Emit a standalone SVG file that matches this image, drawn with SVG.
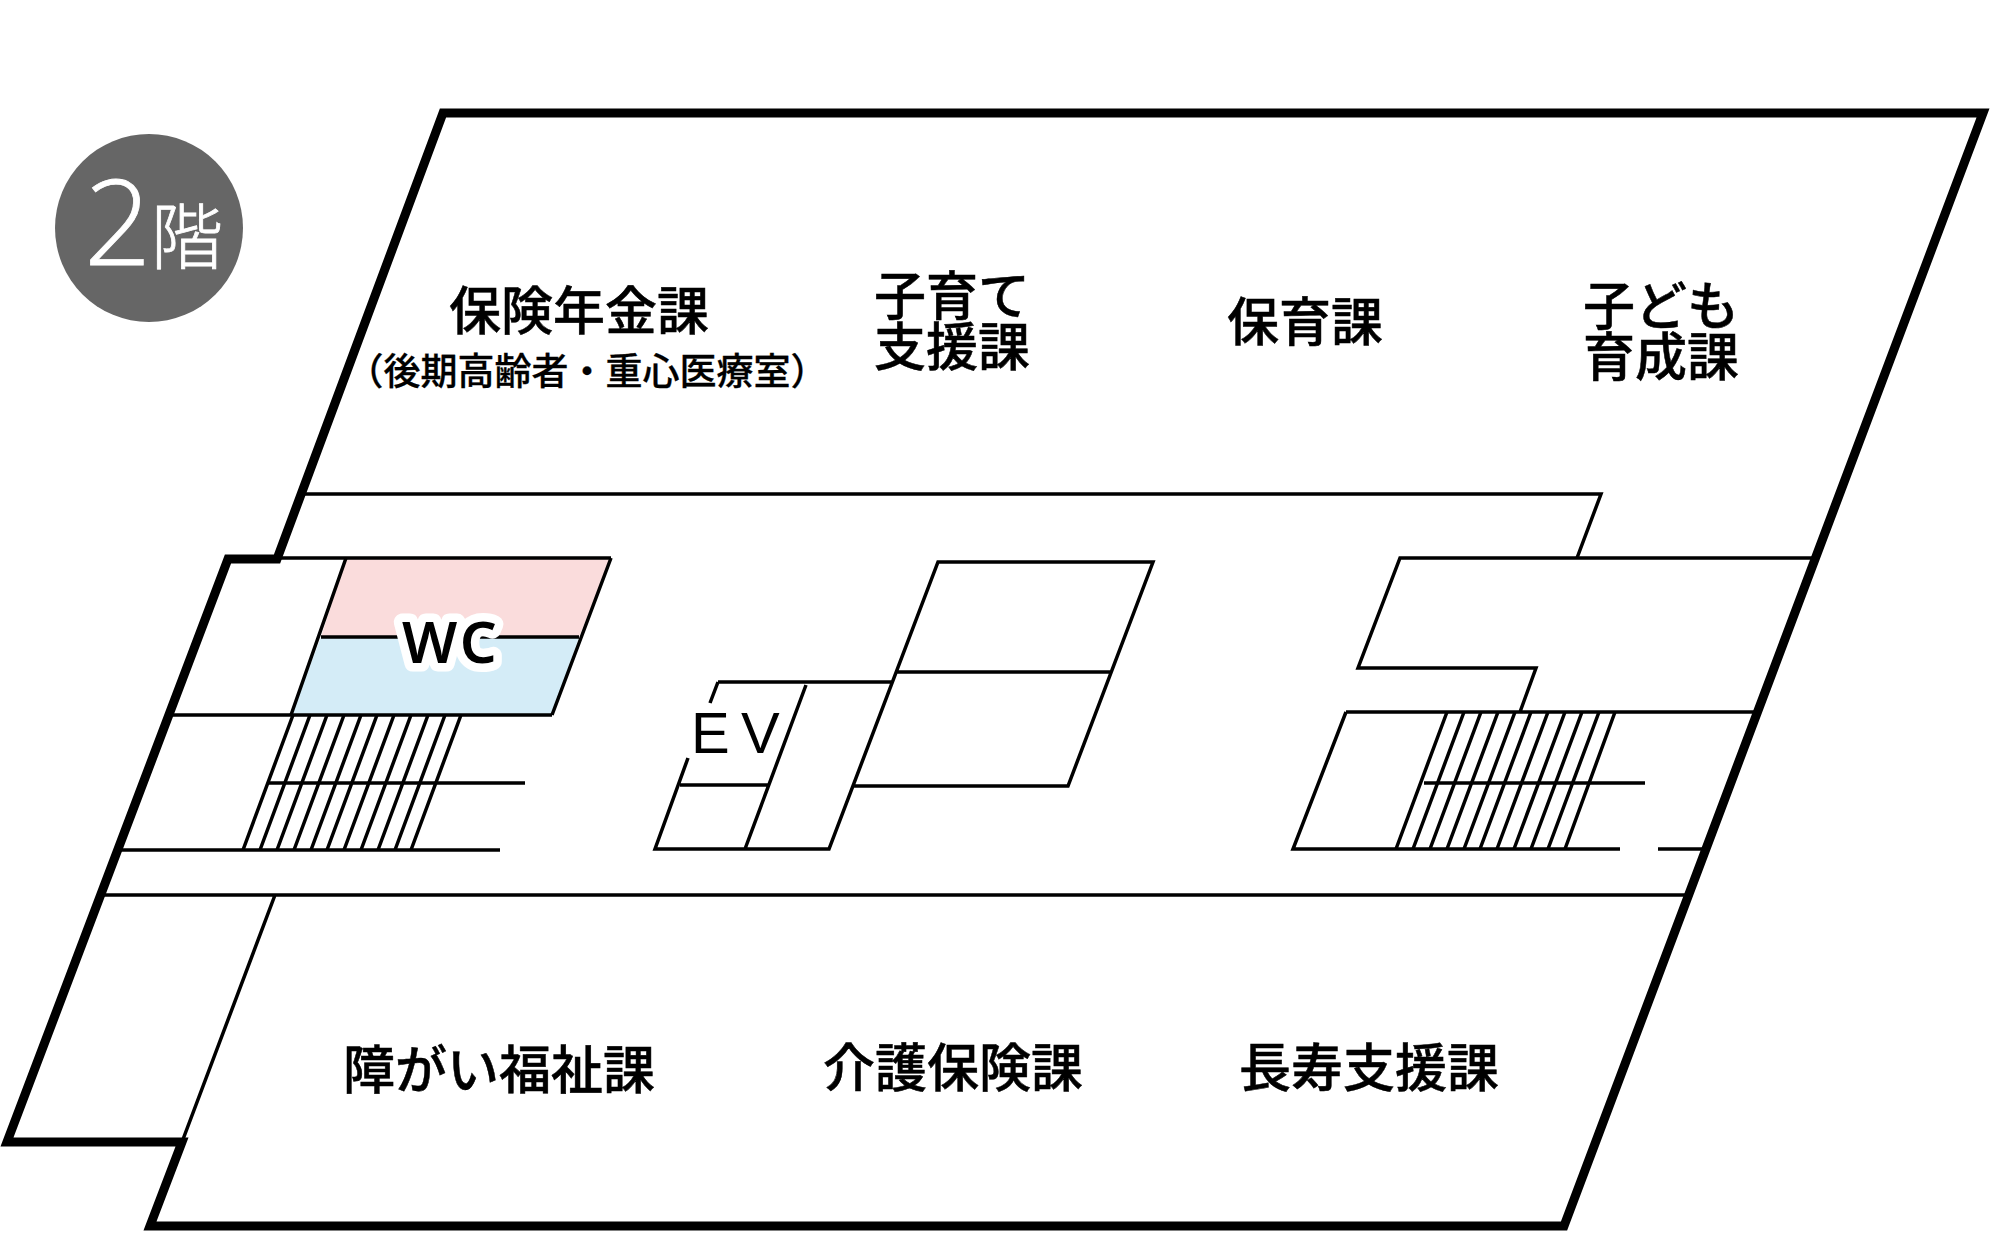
<svg xmlns="http://www.w3.org/2000/svg" width="2000" height="1250" viewBox="0 0 2000 1250">
<style>
.wall{fill:none;stroke:#000;stroke-width:9;stroke-linejoin:miter}
.ln{fill:none;stroke:#000;stroke-width:3.5;stroke-linejoin:miter}
.lbl{font-family:"Noto Sans CJK JP","Noto Sans",sans-serif;font-weight:500;font-size:52px;fill:#000;stroke:#000;stroke-width:.5;text-anchor:middle}
.sub{font-size:37px;stroke-width:.3}
.lat{font-family:"Noto Sans","Noto Sans CJK JP",sans-serif;fill:#000}
.badge{font-family:"Noto Sans CJK JP","Noto Sans",sans-serif;font-weight:300;fill:#fff;stroke:#fff;stroke-width:.8}
</style>
<rect width="2000" height="1250" fill="#fff"/>
<g id="badge">
<circle cx="149" cy="228" r="94" fill="#666"/>
<text class="badge" x="84" y="265" font-size="118" style="font-family:'Open Sans',sans-serif">2</text>
<text class="badge" x="151" y="263" font-size="72">階</text>
</g>
<g id="restroom">
<polygon points="346,558 611,558 579,637 321,637" fill="#fadcdc"/>
<polygon points="321,637 579,637 552,715 291,715" fill="#d4ecf7"/>
<path class="ln" d="M346,558L291,715M611,558L552,715M321,637H579"/>
</g>
<g id="connectors">
<path class="ln" d="M304,494H1601L1577,558"/>
<path class="ln" d="M277,558H611M173,715H552"/>
<path class="ln" d="M121,850H500M268,783H525M103,895H1686M275,895L182,1142"/>
<path class="ln" d="M718,682H892M718,682L710,703M688,758L655,849H829L938,562H1153L1068,786H854M897,672H1110M806,685L745,849M680,785H768"/>
<path class="ln" d="M1812,558H1400L1358,668H1536L1520,712M1346,712H1756M1346,712L1293,849H1620M1658,849H1702M1424,783H1645"/>
<path class="ln" d="M293,715L243,850M310,715L260,850M327,715L277,850M344,715L294,850M361,715L311,850M377,715L327,850M394,715L344,850M411,715L361,850M428,715L378,850M445,715L395,850M461,715L411,850"/>
<path class="ln" d="M1447,712L1396,849M1464,712L1413,849M1481,712L1430,849M1498,712L1447,849M1515,712L1464,849M1531,712L1480,849M1548,712L1497,849M1565,712L1514,849M1582,712L1531,849M1599,712L1548,849M1615,712L1565,849"/>
<path class="wall" d="M443,113H1983L1564,1226H150L182,1142H7L228,559H277L443,113Z"/>
</g>
<g id="wc-label"><text class="lat" x="402" y="663" font-size="58" font-weight="600" stroke="#fff" stroke-width="17" stroke-linejoin="round" paint-order="stroke" style="letter-spacing:3px">WC</text></g>
<g id="ev-label"><text class="lat" x="691 741" y="753" font-size="58" style="font-family:'Liberation Sans',sans-serif">EV</text></g>
<g id="room-hoken"><text class="lbl" x="579" y="330">保険年金課</text><text class="lbl sub" x="587" y="385">（後期高齢者・重心医療室）</text></g>
<g id="room-kosodate"><text class="lbl" x="952" y="315">子育て</text><text class="lbl" x="952" y="366">支援課</text></g>
<g id="room-hoiku"><text class="lbl" x="1305" y="341">保育課</text></g>
<g id="room-kodomo"><text class="lbl" x="1661" y="325">子ども</text><text class="lbl" x="1661" y="376">育成課</text></g>
<g id="room-shogai"><text class="lbl" x="499" y="1089">障がい福祉課</text></g>
<g id="room-kaigo"><text class="lbl" x="953" y="1087">介護保険課</text></g>
<g id="room-choju"><text class="lbl" x="1369" y="1087">長寿支援課</text></g>
</svg>
